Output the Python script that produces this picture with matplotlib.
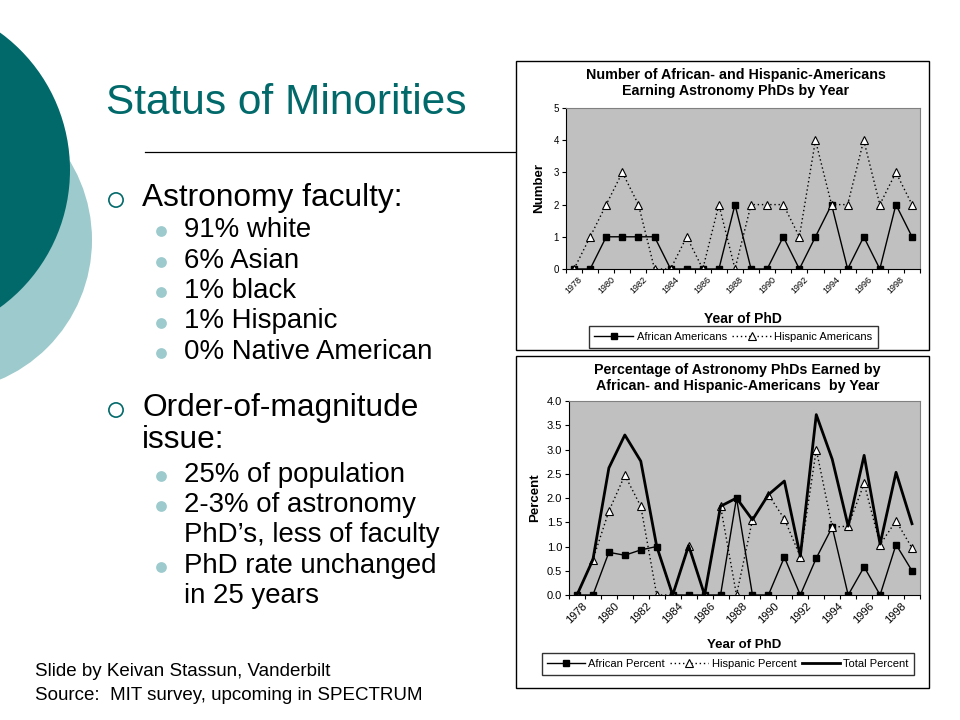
import numpy as np
import matplotlib
matplotlib.use('Agg')
import matplotlib.pyplot as plt
from matplotlib.patches import Circle, Rectangle

plt.rcParams['font.family'] = ['Liberation Sans', 'DejaVu Sans']

# data
years = list(range(1978, 2000))
african_num = [0, 0, 1, 1, 1, 1, 0, 0, 0, 0, 2, 0, 0, 1, 0, 1, 2, 0, 1, 0, 2, 1]
hispanic_num = [0, 1, 2, 3, 2, 0, 0, 1, 0, 2, 0, 2, 2, 2, 1, 4, 2, 2, 4, 2, 3, 2]
african_pct = [0, 0, 0.88, 0.82, 0.93, 1.0, 0, 0, 0, 0, 2.0, 0, 0, 0.78, 0, 0.76,
               1.4, 0, 0.58, 0, 1.04, 0.5]
hispanic_pct = [0, 0.73, 1.73, 2.47, 1.83, 0, 0, 1.02, 0, 1.83, 0, 1.55, 2.07, 1.57,
                0.79, 3.0, 1.4, 1.42, 2.3, 1.04, 1.53, 0.97]
total_pct = [0, 0.73, 2.62, 3.3, 2.76, 1.0, 0, 1.02, 0, 1.83, 2.0, 1.55, 2.07, 2.35,
             0.8, 3.72, 2.8, 1.42, 2.88, 1.05, 2.53, 1.47]

faculty = ['91% white', '6% Asian', '1% black', '1% Hispanic', '0% Native American']

DARK = '#02696a'
LIGHT = '#9dcacc'

fig = plt.figure(figsize=(9.6, 7.2), dpi=100)

# slide background in pixel coordinates
bg = fig.add_axes([0, 0, 1, 1], zorder=0)
bg.set_xlim(0, 960)
bg.set_ylim(720, 0)
bg.axis('off')
bg.add_patch(Circle((-60, 240), 152, color=LIGHT, lw=0))
bg.add_patch(Circle((-100, 170), 170, color=DARK, lw=0))

bg.text(106, 103, 'Status of Minorities', fontsize=30.5, color=DARK, va='center')
bg.plot([145, 515], [152, 152], color='black', lw=0.9)

def main_bullet(y, lines):
    bg.scatter([116], [y + 2], s=105, facecolor='none', edgecolor=DARK, lw=1.2)
    for i, t in enumerate(lines):
        bg.text(142, y + i * 32, t, fontsize=22.8, va='center')

def sub_bullet(y, lines, dot=True):
    if dot:
        bg.scatter([161], [y + 1], s=60, color=LIGHT, lw=0)
    for i, t in enumerate(lines):
        bg.text(184, y + i * 30.3, t, fontsize=19.9, va='center')

main_bullet(198, ['Astronomy faculty:'])
for i, t in enumerate(faculty):
    sub_bullet(230 + i * 30.5, [t])
main_bullet(408, ['Order-of-magnitude', 'issue:'])
sub_bullet(475, ['25% of population'])
sub_bullet(505, ['2-3% of astronomy', 'PhD\u2019s, less of faculty'])
sub_bullet(566, ['PhD rate unchanged', 'in 25 years'])

bg.text(35, 672, 'Slide by Keivan Stassun, Vanderbilt', fontsize=13.5, va='center')
bg.text(35, 695, 'Source:  MIT survey, upcoming in SPECTRUM', fontsize=13.5, va='center')

# chart frames
bg.add_patch(Rectangle((516, 61), 413, 289, fill=False, ec='black', lw=1))
bg.add_patch(Rectangle((516, 356), 413, 332, fill=False, ec='black', lw=1))

x = np.arange(len(years))


def style_axis(ax, tick_fs):
    ax.set_facecolor('#c0c0c0')
    for s in ['top', 'right']:
        ax.spines[s].set_color('#808080')
    for s in ['left', 'bottom']:
        ax.spines[s].set_color('black')
        ax.spines[s].set_linewidth(0.8)
    ax.set_xlim(-0.5, len(years) - 0.5)
    ax.set_xticks(np.arange(-0.5, len(years), 1.0))
    ax.set_xticklabels([])
    ax.set_xticks(x[::2], minor=True)
    ax.set_xticklabels([str(y) for y in years[::2]], minor=True, rotation=45,
                       ha='center', va='top', fontsize=tick_fs)
    ax.tick_params(axis='x', which='major', length=3, width=0.8)
    ax.tick_params(axis='x', which='minor', length=0, pad=4)
    ax.tick_params(axis='y', length=3, width=0.8, pad=2)


# top chart: numbers
ax1 = fig.add_axes([0.5896, 0.6264, 0.3688, 0.2236], zorder=2)
l1, = ax1.plot(x, african_num, color='black', lw=1, marker='s', ms=4.5,
               mfc='black', mec='black', label='African Americans')
l2, = ax1.plot(x, hispanic_num, color='black', lw=1, ls=(0, (1, 2)), marker='^', ms=5.5,
               mfc='white', mec='black', mew=0.8, label='Hispanic Americans')
style_axis(ax1, 6.5)
ax1.set_ylim(0, 5)
ax1.set_yticks(range(6))
ax1.tick_params(axis='y', labelsize=7)
ax1.set_ylabel('Number', fontsize=9.5, fontweight='bold', labelpad=6)
ax1.set_xlabel('Year of PhD', fontsize=10, fontweight='bold', labelpad=12)
ax1.set_title('Number of African- and Hispanic-Americans\nEarning Astronomy PhDs by Year',
              fontsize=10.3, fontweight='bold', pad=9, x=0.48)
fig.legend(handles=[l1, l2], loc='center', bbox_to_anchor=(0.764, 0.532), ncol=2,
           fontsize=8, frameon=True, fancybox=False, edgecolor='black',
           handlelength=3.5, columnspacing=0.5, borderpad=0.5, handletextpad=0.3)

# bottom chart: percentages
ax2 = fig.add_axes([0.5927, 0.1736, 0.3656, 0.2694], zorder=2)
m1, = ax2.plot(x, african_pct, color='black', lw=1, marker='s', ms=4.5,
               mfc='black', mec='black', label='African Percent')
m2, = ax2.plot(x, hispanic_pct, color='black', lw=1, ls=(0, (1, 2)), marker='^', ms=5.5,
               mfc='white', mec='black', mew=0.8, label='Hispanic Percent')
m3, = ax2.plot(x, total_pct, color='black', lw=2, label='Total Percent')
style_axis(ax2, 8)
ax2.set_ylim(0, 4)
ax2.set_yticks(np.arange(0, 4.01, 0.5))
ax2.set_yticklabels(['%.1f' % v for v in np.arange(0, 4.01, 0.5)])
ax2.tick_params(axis='y', labelsize=8)
ax2.set_ylabel('Percent', fontsize=9.5, fontweight='bold', labelpad=4)
ax2.set_xlabel('Year of PhD', fontsize=9.5, fontweight='bold', labelpad=10)
ax2.set_title('Percentage of Astronomy PhDs Earned by\nAfrican- and Hispanic-Americans  by Year',
              fontsize=10.3, fontweight='bold', pad=8, x=0.48)
fig.legend(handles=[m1, m2, m3], loc='center', bbox_to_anchor=(0.758, 0.0778), ncol=3,
           fontsize=8, frameon=True, fancybox=False, edgecolor='black',
           handlelength=3.4, columnspacing=0.5, borderpad=0.5, handletextpad=0.3)

fig.savefig('out.png', dpi=100)
